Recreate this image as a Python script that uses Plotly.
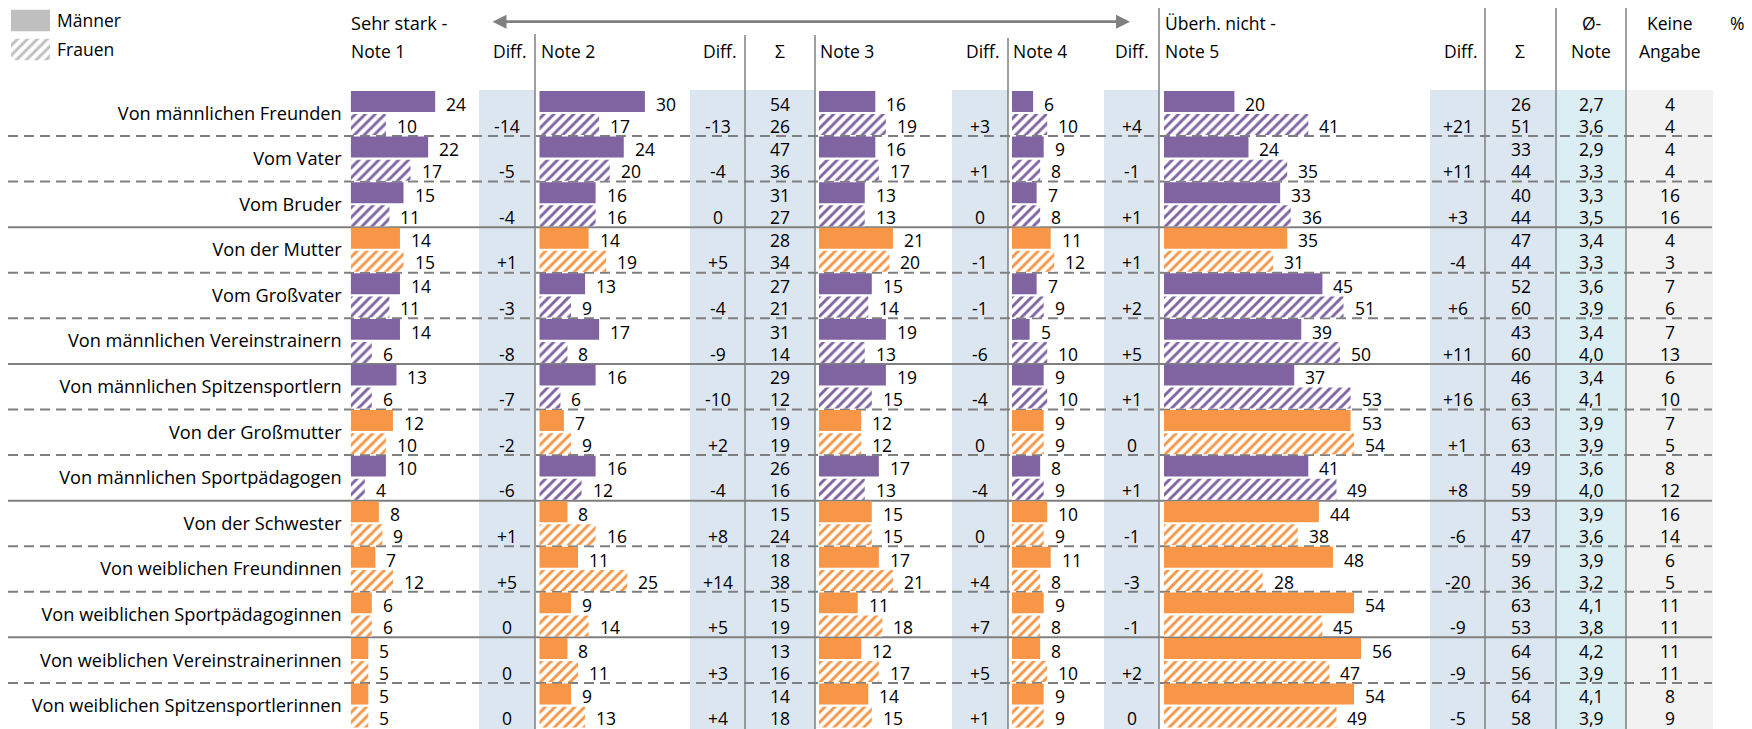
import plotly.graph_objects as go

W, H = 1752, 729
FONT = "Open Sans"

# ---------------- data ----------------
categories = [
    "Von männlichen Freunden", "Vom Vater", "Vom Bruder",
    "Von der Mutter", "Vom Großvater", "Von männlichen Vereinstrainern",
    "Von männlichen Spitzensportlern", "Von der Großmutter", "Von männlichen Sportpädagogen",
    "Von der Schwester", "Von weiblichen Freundinnen", "Von weiblichen Sportpädagoginnen",
    "Von weiblichen Vereinstrainerinnen", "Von weiblichen Spitzensportlerinnen",
]
source_sex = ["m", "m", "m", "f", "m", "m", "m", "f", "m", "f", "f", "f", "f", "f"]

note1_m = [24, 22, 15, 14, 14, 14, 13, 12, 10, 8, 7, 6, 5, 5]
note1_f = [10, 17, 11, 15, 11, 6, 6, 10, 4, 9, 12, 6, 5, 5]
note1_diff = [-14, -5, -4, 1, -3, -8, -7, -2, -6, 1, 5, 0, 0, 0]

note2_m = [30, 24, 16, 14, 13, 17, 16, 7, 16, 8, 11, 9, 8, 9]
note2_f = [17, 20, 16, 19, 9, 8, 6, 9, 12, 16, 25, 14, 11, 13]
note2_diff = [-13, -4, 0, 5, -4, -9, -10, 2, -4, 8, 14, 5, 3, 4]

sum12_m = [54, 47, 31, 28, 27, 31, 29, 19, 26, 15, 18, 15, 13, 14]
sum12_f = [26, 36, 27, 34, 21, 14, 12, 19, 16, 24, 38, 19, 16, 18]

note3_m = [16, 16, 13, 21, 15, 19, 19, 12, 17, 15, 17, 11, 12, 14]
note3_f = [19, 17, 13, 20, 14, 13, 15, 12, 13, 15, 21, 18, 17, 15]
note3_diff = [3, 1, 0, -1, -1, -6, -4, 0, -4, 0, 4, 7, 5, 1]

note4_m = [6, 9, 7, 11, 7, 5, 9, 9, 8, 10, 11, 9, 8, 9]
note4_f = [10, 8, 8, 12, 9, 10, 10, 9, 9, 9, 8, 8, 10, 9]
note4_diff = [4, -1, 1, 1, 2, 5, 1, 0, 1, -1, -3, -1, 2, 0]

note5_m = [20, 24, 33, 35, 45, 39, 37, 53, 41, 44, 48, 54, 56, 54]
note5_f = [41, 35, 36, 31, 51, 50, 53, 54, 49, 38, 28, 45, 47, 49]
note5_diff = [21, 11, 3, -4, 6, 11, 16, 1, 8, -6, -20, -9, -9, -5]

sum45_m = [26, 33, 40, 47, 52, 43, 46, 63, 49, 53, 59, 63, 64, 64]
sum45_f = [51, 44, 44, 44, 60, 60, 63, 63, 59, 47, 36, 53, 56, 58]

avg_m = [2.7, 2.9, 3.3, 3.4, 3.6, 3.4, 3.4, 3.9, 3.6, 3.9, 3.9, 4.1, 4.2, 4.1]
avg_f = [3.6, 3.3, 3.5, 3.3, 3.9, 4.0, 4.1, 3.9, 4.0, 3.6, 3.2, 3.8, 3.9, 3.9]

na_m = [4, 4, 16, 4, 7, 7, 6, 7, 8, 16, 6, 11, 11, 8]
na_f = [4, 4, 16, 3, 6, 13, 10, 5, 12, 14, 5, 11, 11, 9]

legend_labels = ["Männer", "Frauen"]

# ---------------- styling ----------------
PURPLE = "#8064A2"
ORANGE = "#F79646"
GRAY_LINE = "#7F7F7F"
SHADE_BLUE = "#DCE6F1"
SHADE_CYAN = "#DAEEF3"
SHADE_GRAY = "#F2F2F2"
TXT = "#000000"
FS = 17.5
FS_LABEL = 18.2
SEX_COLOR = {"m": PURPLE, "f": ORANGE}

row_colors = [SEX_COLOR[s] for s in source_sex]

men = [note1_m, note2_m, note3_m, note4_m, note5_m]
women = [note1_f, note2_f, note3_f, note4_f, note5_f]
diffs = [note1_diff, note2_diff, note3_diff, note4_diff, note5_diff]

note_start_px = [350.7, 539.3, 819.0, 1012.0, 1164.0]
PX_PER_UNIT = 3.52
X_RANGE = 60

ROW0_CENTER = 113.2
ROW_PITCH = 45.58
n = len(categories)
y_top = -ROW0_CENTER / ROW_PITCH
y_bot = (H - ROW0_CENTER) / ROW_PITCH

BAR_W = 0.46
M_OFF = -0.487
F_OFF = 0.02

def px(x):
    return x / W

def py(y):
    return 1 - y / H

fig = go.Figure()

axis_names = ["x", "x2", "x3", "x4", "x5"]
for k in range(5):
    xa = axis_names[k]
    fig.add_trace(go.Bar(
        y=categories, x=men[k], orientation="h", xaxis=xa, yaxis="y",
        width=BAR_W, offset=M_OFF,
        marker=dict(color=row_colors, line=dict(width=0)),
        showlegend=False, hoverinfo="skip",
    ))
    for sex, col in SEX_COLOR.items():
        ys = [c for c, s in zip(categories, source_sex) if s == sex]
        xs = [v for v, s in zip(women[k], source_sex) if s == sex]
        fig.add_trace(go.Bar(
            y=ys, x=xs, orientation="h", xaxis=xa, yaxis="y",
            width=BAR_W, offset=F_OFF,
            marker=dict(color=col, line=dict(width=0),
                        pattern=dict(shape="/", fgcolor=col, bgcolor="white",
                                     size=7, solidity=0.42, fillmode="replace")),
            showlegend=False, hoverinfo="skip",
        ))

# legend swatches as a tiny subplot
fig.add_trace(go.Bar(y=[legend_labels[0]], x=[1], orientation="h", xaxis="x6", yaxis="y2", width=0.74,
                     marker=dict(color="#BFBFBF", line=dict(width=0)), showlegend=False, hoverinfo="skip"))
fig.add_trace(go.Bar(y=[legend_labels[1]], x=[1], orientation="h", xaxis="x6", yaxis="y2", width=0.74,
                     marker=dict(color="#BFBFBF", line=dict(width=0),
                                 pattern=dict(shape="/", fgcolor="#BFBFBF", bgcolor="white", size=7,
                                              solidity=0.42, fillmode="replace")),
                     showlegend=False, hoverinfo="skip"))

layout = dict(
    width=W, height=H, autosize=False,
    margin=dict(l=0, r=0, t=0, b=0),
    paper_bgcolor="white", plot_bgcolor="rgba(0,0,0,0)",
    barmode="overlay",
    font=dict(family=FONT, size=FS, color=TXT),
    showlegend=False,
)
for k in range(5):
    key = "xaxis" if k == 0 else f"xaxis{k+1}"
    x0 = note_start_px[k]
    layout[key] = dict(domain=[px(x0), px(x0 + PX_PER_UNIT * X_RANGE)], range=[0, X_RANGE],
                       visible=False, anchor="y", fixedrange=True)
layout["yaxis"] = dict(
    type="category", categoryorder="array", categoryarray=categories,
    range=[y_bot, y_top], domain=[0, 1], anchor="x",
    showgrid=False, zeroline=False, showline=False, ticks="",
    tickfont=dict(family=FONT, size=FS_LABEL, color=TXT), ticklabelstandoff=8,
)
layout["xaxis6"] = dict(domain=[px(11), px(50)], range=[0, 1], visible=False, anchor="y2")
layout["yaxis2"] = dict(
    type="category", categoryorder="array", categoryarray=legend_labels,
    range=[1.5, -0.5], domain=[py(64), py(6)], anchor="x6", side="right",
    showgrid=False, zeroline=False, showline=False, ticks="",
    tickfont=dict(family=FONT, size=FS, color=TXT), ticklabelstandoff=6,
)
fig.update_layout(**layout)

shapes = []
SHADE_TOP = 90
for x0, x1, c in [(479, 535, SHADE_BLUE), (690, 815, SHADE_BLUE), (952, 1008, SHADE_BLUE),
                  (1104, 1159, SHADE_BLUE), (1430, 1556, SHADE_BLUE),
                  (1556, 1626, SHADE_CYAN), (1626, 1713, SHADE_GRAY)]:
    shapes.append(dict(type="rect", xref="paper", yref="paper", x0=px(x0), x1=px(x1),
                       y0=py(SHADE_TOP), y1=0, fillcolor=c, line=dict(width=0), layer="below"))
for x, ytop in [(535, 34), (745, 35), (815, 35), (1008, 38), (1159, 8), (1485, 8), (1556, 8), (1626, 8)]:
    shapes.append(dict(type="line", xref="paper", yref="paper", x0=px(x), x1=px(x),
                       y0=py(ytop), y1=0, line=dict(color=GRAY_LINE, width=1.5), layer="below"))
for i in range(n - 1):
    solid = (i + 1) % 3 == 0
    shapes.append(dict(type="line", xref="paper", yref="y", x0=px(8), x1=px(1712),
                       y0=i + 0.5, y1=i + 0.5,
                       line=dict(color=GRAY_LINE, width=2, dash="solid" if solid else "10px,6px"),
                       layer="below"))
fig.update_layout(shapes=shapes)

ann = []
def txt(text, x, y, xanchor="left", size=FS):
    ann.append(dict(text=text, x=px(x), y=py(y), xref="paper", yref="paper",
                    xanchor=xanchor, yanchor="middle", showarrow=False, borderpad=0,
                    font=dict(family=FONT, size=size, color=TXT)))

txt("Sehr stark -", 350, 23, size=FS_LABEL)
txt("Note 1", 350, 51)
txt("Diff.", 528, 51, "right")
txt("Note 2", 540, 51)
txt("Diff.", 738, 51, "right")
txt("\u03a3", 780, 51, "center")
txt("Note 3", 819, 51)
txt("Diff.", 1001, 51, "right")
txt("Note 4", 1012, 51)
txt("Diff.", 1150, 51, "right")
txt("Überh. nicht -", 1164, 23)
txt("Note 5", 1164, 51)
txt("Diff.", 1479, 51, "right")
txt("\u03a3", 1520, 51, "center")
txt("Ø-", 1591, 23, "center")
txt("Note", 1591, 51, "center")
txt("Keine", 1670, 23, "center")
txt("Angabe", 1670, 51, "center")
txt("%", 1737, 23, "center")

ARROW_X0, ARROW_X1, ARROW_Y = 491, 1130, 21.7
ann.append(dict(text="", x=px(ARROW_X1), y=py(ARROW_Y), ax=-(ARROW_X1 - ARROW_X0), ay=0,
                xref="paper", yref="paper", axref="pixel", ayref="pixel",
                showarrow=True, arrowhead=2, startarrowhead=2, arrowside="end+start",
                arrowsize=1, startarrowsize=1, arrowwidth=2.8, arrowcolor="#808080",
                standoff=0, startstandoff=0))

M_SHIFT, F_SHIFT = 9.5, -12.5

def cell(text, i, x, shift, xanchor="center"):
    ann.append(dict(text=text, x=px(x), y=i, xref="paper", yref="y",
                    xanchor=xanchor, yanchor="middle", yshift=shift, showarrow=False, borderpad=0,
                    font=dict(family=FONT, size=FS, color=TXT)))

def fmt_diff(d):
    return "0" if d == 0 else f"{d:+d}"

def fmt_dec(v):
    return f"{v:.1f}".replace(".", ",")

diff_centers = [507, 717.5, 980, 1131.5, 1457.5]
for k in range(5):
    xa = axis_names[k]
    for i in range(n):
        ann.append(dict(text=str(men[k][i]), x=men[k][i], y=i, xref=xa, yref="y",
                        xanchor="left", yanchor="middle", xshift=10, yshift=M_SHIFT,
                        showarrow=False, borderpad=0, font=dict(family=FONT, size=FS, color=TXT)))
        ann.append(dict(text=str(women[k][i]), x=women[k][i], y=i, xref=xa, yref="y",
                        xanchor="left", yanchor="middle", xshift=10, yshift=F_SHIFT,
                        showarrow=False, borderpad=0, font=dict(family=FONT, size=FS, color=TXT)))
        cell(fmt_diff(diffs[k][i]), i, diff_centers[k], F_SHIFT)

for i in range(n):
    cell(str(sum12_m[i]), i, 780, M_SHIFT)
    cell(str(sum12_f[i]), i, 780, F_SHIFT)
    cell(str(sum45_m[i]), i, 1520.5, M_SHIFT)
    cell(str(sum45_f[i]), i, 1520.5, F_SHIFT)
    cell(fmt_dec(avg_m[i]), i, 1591, M_SHIFT)
    cell(fmt_dec(avg_f[i]), i, 1591, F_SHIFT)
    cell(str(na_m[i]), i, 1670, M_SHIFT)
    cell(str(na_f[i]), i, 1670, F_SHIFT)

fig.update_layout(annotations=ann)
fig.write_html("out.html", config={"displayModeBar": False},
               post_script="document.body.style.margin='0';document.body.style.overflow='hidden';")
